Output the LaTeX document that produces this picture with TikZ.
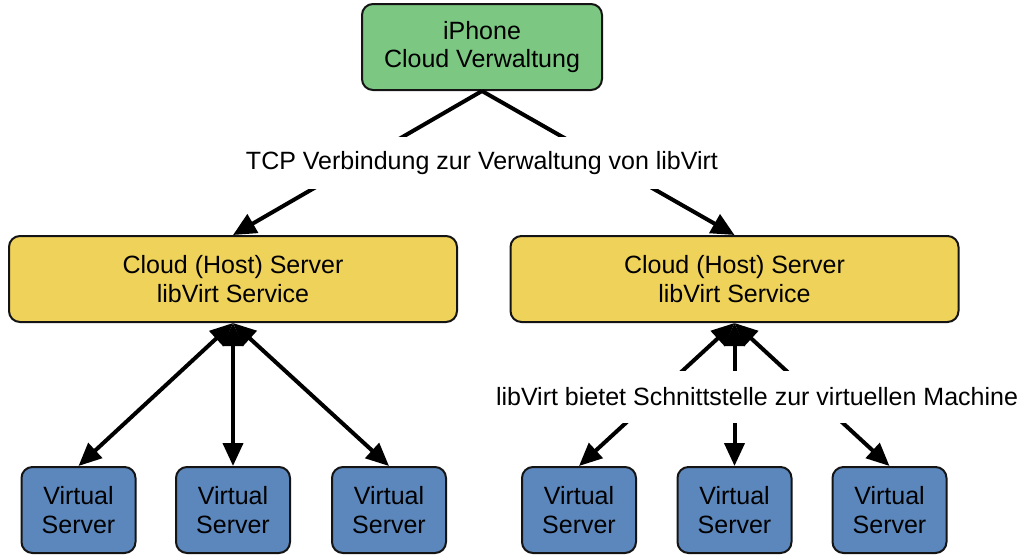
\documentclass[tikz,border=0pt]{standalone}
\usepackage{fontspec}
\setmainfont{Liberation Sans}
\usetikzlibrary{arrows.meta}
\definecolor{boxgreen}{RGB}{124,199,130}
\definecolor{boxyellow}{RGB}{239,210,90}
\definecolor{boxblue}{RGB}{92,135,189}
\definecolor{edge}{RGB}{20,20,20}
\tikzset{
  box/.style={draw=edge, line width=2pt, rounded corners=11pt, align=center,
    font=\fontsize{25}{28.5}\selectfont, inner sep=0pt, minimum height=86pt},
  gbox/.style={box, fill=boxgreen, minimum width=240pt},
  ybox/.style={box, fill=boxyellow, minimum width=448pt},
  vbox/.style={box, fill=boxblue, minimum width=114pt},
  lbl/.style={fill=white, inner xsep=3pt, inner ysep=0pt, minimum height=52pt,
    font=\fontsize{25}{28.5}\selectfont},
  conn/.style={line width=4pt, draw=black},
  arr/.style={conn, -{Triangle[length=23pt,width=21pt]}},
  darr/.style={conn, {Triangle[length=23pt,width=20pt]}-{Triangle[length=23pt,width=20pt]}}
}
\begin{document}
\begin{tikzpicture}[x=1pt,y=-1pt]
\useasboundingbox (0,0) rectangle (1026,555);
\node[gbox] (iph) at (482,47) {iPhone\\Cloud Verwaltung};
\node[ybox] (yl) at (233,279) {Cloud (Host) Server\\libVirt Service};
\node[ybox] (yr) at (734.5,279) {Cloud (Host) Server\\libVirt Service};
\node[vbox] (b1) at (78.5,510) {Virtual\\Server};
\node[vbox] (b2) at (233,510) {Virtual\\Server};
\node[vbox] (b3) at (389,510) {Virtual\\Server};
\node[vbox] (b4) at (579,510) {Virtual\\Server};
\node[vbox] (b5) at (734.5,510) {Virtual\\Server};
\node[vbox] (b6) at (889.5,510) {Virtual\\Server};
\draw[arr] (iph.south) -- (yl.north);
\draw[arr] (iph.south) -- (yr.north);
\draw[darr] (yl.south) -- (b1.north);
\draw[darr] (yl.south) -- (b2.north);
\draw[darr] (yl.south) -- (b3.north);
\draw[darr] (yr.south) -- (b4.north);
\draw[darr] (yr.south) -- (b5.north);
\draw[darr] (yr.south) -- (b6.north);
\node[lbl] (l1) at (482,163) {TCP Verbindung zur Verwaltung von libVirt};
\node[lbl] (l2) at (757,397) {libVirt bietet Schnittstelle zur virtuellen Machine};
\end{tikzpicture}
\end{document}
